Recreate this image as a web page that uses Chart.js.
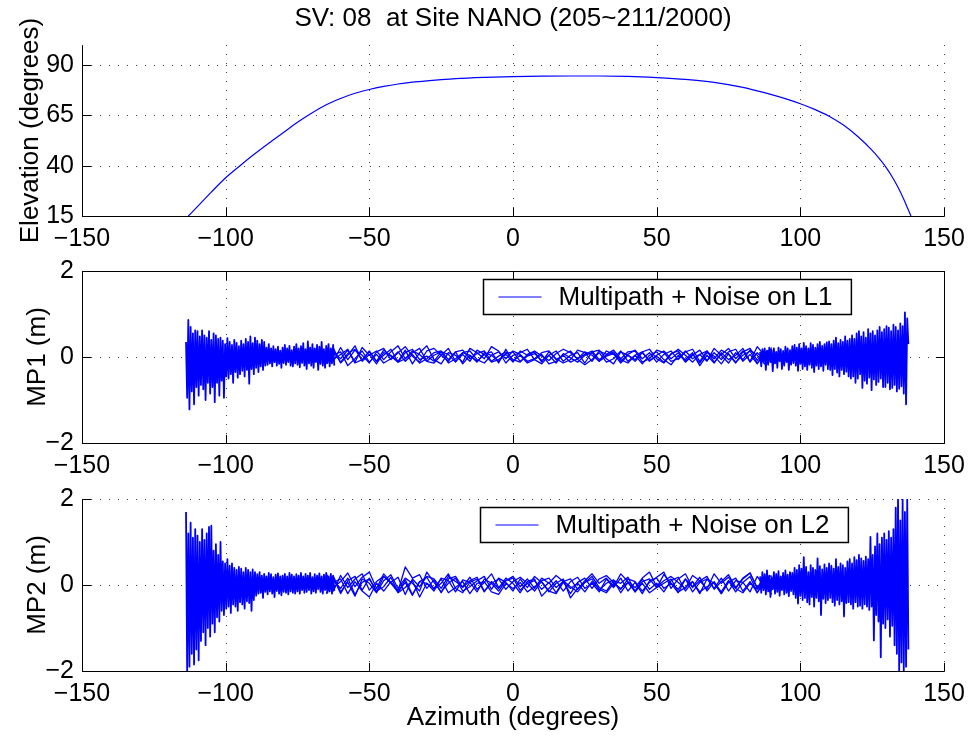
<!DOCTYPE html>
<html>
<head>
<meta charset="utf-8">
<title>SV 08 multipath</title>
<script src="https://cdn.jsdelivr.net/npm/chart.js@4.4.1/dist/chart.umd.min.js"></script>
<style>
  html, body { margin: 0; padding: 0; background: #fff; }
  #wrap { position: relative; width: 973px; height: 736px; }
  #wrap canvas { position: absolute; left: 0; top: 0; }
</style>
</head>
<body>
<div id="wrap">
  <canvas id="elev" width="973" height="736"></canvas>
  <canvas id="mp1" width="973" height="736"></canvas>
  <canvas id="mp2" width="973" height="736"></canvas>
</div>
<script>
// ---- data ----
const chartTitle = "SV: 08  at Site NANO (205~211/2000)";
const azTicks = [-150, -100, -50, 0, 50, 100, 150];
const elevTicks = [15, 40, 65, 90];
const mpTicks = [-2, 0, 2];

const elevAzimuth = [-113, -110, -105, -100, -95, -90, -85, -80, -75, -70,
  -65, -60, -55, -50, -45, -40, -35, -30, -25, -20,
  -10, 0, 10, 20, 30, 40, 50, 60, 70, 80,
  85, 90, 95, 100, 105, 110, 115, 120, 125, 128,
  130, 132, 134, 136, 137.5, 138.5];
const elevation = [15, 19.4, 26.9, 34, 40, 45.8, 51.2, 56.4, 61.6, 66.2,
  70.3, 73.4, 76, 77.9, 79.4, 80.6, 81.5, 82.2, 82.8, 83.3,
  83.9, 84.3, 84.5, 84.6, 84.6, 84.4, 83.8, 82.9, 81.4, 78.9,
  77.2, 75.3, 73.2, 70.8, 68, 64.6, 60.2, 54.5, 47.6, 42.6,
  38.8, 34.4, 29.3, 23.3, 18.3, 15];

// low elevation ends: one sample every 0.4 deg azimuth
const denseStep = 0.4;
const leftStart = -113.8;
const rightStart = 86;
// daily passes over the high part: one sample every 2.5 deg from -65
const passStart = -65;
const passStep = 2.5;

const mp1Left = [.35,-.95,.86,-1.22,.7,-.8,.55,-1.1,.62,-.7,
  .6,-.9,.48,-.65,.62,-.75,.5,-1.0,.45,-.6,
  .6,-.85,.4,-.7,.55,-1.05,.5,-.6,.42,-.9,
  .45,-.55,.38,-.95,.3,-.45,.44,-.5,.35,-.4,
  .28,-.6,.4,-.35,.33,-.48,.25,-.4,.38,-.32,
  .3,-.45,.42,-.3,.35,-.62,.48,-.28,.32,-.4,
  .45,-.25,.38,-.35,.3,-.22,.4,-.3,.35,-.2,
  .22,-.18,.3,-.15,.2,-.22,.25,-.12,.18,-.2,
  .24,-.16,.15,-.25,.22,-.14,.28,-.18,.2,-.12,
  .26,-.2,.16,-.22,.24,-.15,.3,-.18,.2,-.24,
  .25,-.14,.32,-.2,.18,-.28,.36,-.15,.22,-.2,
  .3,-.25,.2,-.12,.28,-.3,.24,-.16,.35,-.2,
  .18,-.25,.26,-.14,.3,-.22,.2,-.15,.28,-.2];
const mp1Right = [.12,-.22,.18,-.1,.2,-.3,.15,-.18,.22,-.12,
  .16,-.33,.2,-.15,.12,-.25,.22,-.1,.18,-.28,
  .14,-.2,.24,-.12,.2,-.3,.16,-.18,.25,-.14,
  .28,-.2,.22,-.32,.3,-.16,.2,-.28,.33,-.22,
  .25,-.3,.2,-.18,.32,-.25,.28,-.35,.22,-.2,
  .3,-.28,.35,-.22,.26,-.32,.3,-.18,.34,-.28,
  .36,-.3,.3,-.42,.38,-.28,.45,-.36,.32,-.45,
  .4,-.3,.35,-.4,.48,-.34,.38,-.45,.42,-.5,
  .5,-.45,.42,-.6,.55,-.5,.6,-.4,.48,-.72,
  .58,-.55,.45,-.62,.65,-.48,.55,-.77,.6,-.52,
  .5,-.65,.62,-.58,.7,-.5,.58,-.7,.65,-.7,
  .72,-.6,.68,-.75,.6,-.72,.75,-.65,.7,-.8,
  .62,-.74,.78,-.68,.72,-.85,1.04,-1.1,.9,.3];
const mp1PassA = [.18,-.1,.22,-.06,.16,.04,-.14,.12,.2,-.06,
  .1,.24,.02,-.12,.14,.2,.04,-.1,.12,.16,
  -.04,.08,.14,-.1,.02,.12,-.06,-.12,.06,.14,
  .02,-.08,.08,.18,.1,-.04,.06,.14,-.06,.04,
  .12,-.1,.06,.16,-.04,.1,-.12,.06,.14,-.06,
  .12,.18,-.1,.14,-.04,.16,.06,-.14,.12,.2,
  -.08,.14,-.12];
const mp1PassB = [-.16,.1,-.04,.16,-.14,-.06,.12,-.1,.04,.18,
  -.12,-.04,.14,.06,-.1,.04,.12,-.14,-.04,.1,
  .14,-.06,-.14,.04,.12,-.04,.14,.06,-.1,-.04,
  .1,.14,-.06,.04,-.12,-.04,.12,.04,-.1,.14,
  .06,-.06,-.14,.04,.12,-.1,.04,.14,-.04,.1,
  -.12,.04,.16,-.08,.1,-.06,.12,.18,-.1,.06,
  -.16,.1,.18];
const mp1PassC = [.06,.2,-.14,.04,.26,-.1,.06,-.16,.1,.04,
  -.1,.16,-.16,.1,.26,-.06,-.16,.1,.04,-.12,
  .2,.1,-.04,.24,.14,-.14,.04,.1,.18,-.06,
  -.16,.04,.14,-.1,.04,.1,-.14,.12,.16,-.04,
  -.16,.12,.04,-.06,.12,.18,-.04,-.14,.06,.18,
  .04,-.12,.06,-.1,.2,.04,-.14,.1,-.06,.16,
  .04,-.16,.12];
const mp1PassD = [-.1,.04,.12,-.2,-.04,.14,-.12,.06,-.14,-.04,
  .12,-.1,.06,-.14,-.04,.1,.14,-.06,.12,-.16,
  .04,-.1,.06,.12,-.14,.18,-.1,.04,-.14,-.06,
  .06,-.16,-.1,.04,.14,-.06,-.18,-.06,.1,-.12,
  -.04,.14,-.1,.04,-.16,.04,.12,-.06,-.18,.04,
  -.06,.1,-.2,.04,-.14,.1,-.06,.04,.2,-.12,
  .1,-.06,.22];
const mp1PassE = [.22,-.06,.06,.18,-.12,.22,.04,.14,-.06,.12,
  .26,-.04,.1,.2,-.1,-.14,.04,.2,-.1,.06,
  -.1,.16,.06,-.12,-.06,.06,-.12,.14,.04,.12,
  -.12,.12,-.04,-.14,-.06,.16,.1,-.1,.14,.06,
  .16,-.04,.12,.14,-.12,-.04,.16,.1,-.1,-.04,
  .14,-.04,.06,.14,-.12,.06,.2,-.04,.14,-.1,
  .24,.04,-.04];
const mp1PassF = [-.04,.14,-.12,.08,.18,-.08,.14,-.1,.16,.02,
  -.12,.1,.18,-.06,.02,-.1,.12,.06,-.12,.1,
  .04,-.12,.1,.04,-.1,.08,.12,-.1,.02,.08,
  -.08,.04,-.14,.08,-.02,-.12,.04,.1,-.1,.02,
  .08,-.14,.04,-.1,.1,-.08,.02,-.12,.08,.14,
  -.1,.06,-.14,.1,.02,-.16,.08,-.12,.04,.14,
  -.14,.08,-.1];

const mp2Left = [1.7,-2.0,1.2,-1.9,1.45,-1.6,1.1,-1.85,1.3,-1.5,
  1.15,-1.75,1.0,-1.3,1.3,-1.1,1.05,-1.4,1.2,-1.0,
  1.35,-1.2,1.38,-.9,.8,-1.1,.95,-.75,.7,-.85,
  1.0,-.6,.55,-.7,.5,-.55,.6,-.5,.45,-.65,
  .5,-.45,.4,-.5,.35,-.6,.42,-.4,.38,-.45,
  .3,-.55,.4,-.38,.35,-.42,.3,-.6,.36,-.35,
  .3,-.25,.25,-.2,.3,-.18,.22,-.3,.26,-.16,
  .2,-.22,.28,-.15,.25,-.2,.18,-.28,.24,-.14,
  .27,-.2,.2,-.24,.22,-.16,.26,-.18,.2,-.22,
  .28,-.15,.24,-.18,.2,-.2,.25,-.15,.22,-.2,
  .28,-.12,.2,-.18,.26,-.16,.22,-.12,.28,-.2,
  .18,-.15,.25,-.18,.22,-.1,.27,-.16,.2,-.2,
  .24,-.12,.28,-.18,.2,-.15,.26,-.2,.22,-.14];
const mp2Right = [.2,-.18,.3,-.12,.25,-.22,.34,-.15,.22,-.28,
  .18,-.1,.3,-.2,.26,-.16,.32,-.25,.2,-.12,
  .28,-.22,.34,-.18,.24,-.26,.3,-.14,.28,-.22,
  .4,-.3,.35,-.43,.46,-.25,.38,-.35,.65,-.3,
  .42,-.4,.3,-.45,.46,-.28,.4,-.5,.35,-.3,
  .62,-.38,.44,-.7,.36,-.32,.48,-.42,.4,-.35,
  .5,-.3,.45,-.4,.38,-.48,.6,-.35,.42,-.45,
  .5,-.38,.46,-.73,.4,-.42,.55,-.4,.6,-.45,
  .5,-.55,.65,-.4,.58,-.5,.7,-.48,.62,-.55,
  .56,-.45,.66,-.5,.6,-.58,1.12,-.5,.7,-1.29,
  .9,-.7,1.2,-.85,.95,-1.68,1.1,-.9,1.2,-1.0,
  1.05,-.8,1.25,-1.2,1.1,-.95,1.3,-1.4,1.8,-1.6,
  2.0,-2.0,1.5,-1.8,2.0,-2.0,1.7,-1.9,2.0,-1.5];
const mp2PassA = [.16,-.14,.22,-.06,.14,.26,-.12,.08,.2,.06,
  -.14,.42,.16,.24,-.08,.12,-.18,.14,.2,-.06,
  .1,.18,-.14,.04,.14,-.1,.08,.18,.04,-.14,
  .1,.16,-.06,.08,-.2,.06,.16,-.08,.14,.22,
  .06,-.1,.14,.08,-.14,.06,.18,.3,-.08,.14,
  .26,-.06,.1,.2,-.1,.08,.24,-.06,.16,.28,
  -.08,.14,.22];
const mp2PassB = [-.2,.1,-.08,.16,-.22,.06,.14,-.14,-.04,.18,
  -.16,.06,-.24,.08,.18,-.1,.04,.26,-.08,-.18,
  .06,.14,-.16,.08,-.08,.16,.04,-.18,.08,.14,
  -.26,-.08,.1,-.14,.08,.18,-.08,.04,-.16,.14,
  -.06,.16,-.14,.06,-.2,.1,.16,-.08,.04,-.18,
  .14,-.04,.18,-.14,.08,-.2,.06,.16,-.14,.08,
  -.18,.1,-.04];
const mp2PassC = [.08,.2,-.16,.06,-.26,.14,.04,-.18,.1,.24,
  -.08,.16,.04,-.14,.3,.06,-.16,.04,.16,-.14,
  -.04,.1,.2,-.1,.16,.06,-.14,.14,-.06,.2,
  .06,-.16,.04,.14,-.3,-.08,.06,.2,-.06,-.14,
  .1,.04,.18,-.16,.08,.14,-.06,.24,.04,-.1,
  .14,-.16,.06,.14,-.08,.16,-.14,.1,.06,-.16,
  .2,-.04,.14];
const mp2PassD = [-.1,.06,.14,-.2,.08,-.14,-.28,.04,-.14,.08,
  -.18,-.06,.1,-.28,.04,-.08,.14,-.18,-.06,.08,
  -.2,.04,.08,-.16,-.22,.04,-.08,.06,-.16,-.04,
  .08,-.14,-.2,.06,-.08,.04,-.16,.08,-.1,-.18,
  .04,-.08,.06,-.16,.04,-.18,-.06,.04,.14,-.16,
  -.06,.08,-.16,-.04,.06,-.16,.1,-.08,-.18,.04,
  -.1,.08,-.22];
const mp2PassE = [.26,-.06,.08,.28,-.04,.18,.3,-.08,.26,.06,
  .18,-.22,.14,-.04,.2,.14,-.08,.2,.08,-.04,
  .18,-.1,.06,.26,-.06,.1,.2,-.04,.14,-.08,
  .16,.04,.22,.08,.14,-.1,.1,.26,.04,.16,
  -.04,.26,.08,-.06,.16,.3,-.04,.1,.2,.06,
  -.08,.22,.1,-.1,.26,.04,.18,-.08,.14,.28,
  -.06,.18,.08];
const mp2PassF = [-.06,.16,-.2,.1,.2,-.12,.16,-.16,.2,.04,
  -.16,.12,-.22,.08,.04,-.14,.16,.1,-.16,.12,
  .06,-.16,.14,.04,-.14,.1,.16,-.12,.04,.1,
  -.1,.06,-.18,.1,-.04,-.16,.06,.14,-.12,.04,
  .12,-.18,.06,-.14,.14,-.1,.04,-.16,.1,.18,
  -.14,.08,-.2,.14,.04,-.2,.1,-.16,.06,.2,
  -.18,.1,-.14];

// ---- drawing ----
const blue = "#0000ff";
Chart.defaults.font.family = '"Liberation Sans", Arial, Helvetica, sans-serif';
Chart.defaults.color = "#000";

function minus(v) {
  return v < 0 ? "\u2212" + Math.abs(v) : String(v);
}

function series(start, step, values) {
  return values.map((v, i) => ({ x: Math.round((start + i * step) * 100) / 100, y: v }));
}

function lineSet(data, label, width) {
  return {
    label: label,
    data: data,
    borderColor: blue,
    borderWidth: width || 1,
    borderJoinStyle: "round",
    pointRadius: 0,
    tension: 0,
    fill: false
  };
}

function crisp(v) {
  return Math.round(v) + 0.5;
}

// matlab style frame: dotted grid, inward ticks, optional box, boxed legend
const matlabAxes = {
  id: "matlabAxes",
  beforeDatasetsDraw(chart, args, opts) {
    const { ctx, chartArea: a, scales: { x, y } } = chart;
    ctx.save();
    ctx.strokeStyle = "#444";
    ctx.lineWidth = 1;
    ctx.setLineDash([1, 8]);
    ctx.beginPath();
    x.ticks.forEach(t => {
      const px = crisp(x.getPixelForValue(t.value));
      ctx.moveTo(px, a.top);
      ctx.lineTo(px, a.bottom);
    });
    y.ticks.forEach(t => {
      const py = crisp(y.getPixelForValue(t.value));
      ctx.moveTo(a.left, py);
      ctx.lineTo(a.right, py);
    });
    ctx.stroke();
    ctx.restore();
  },
  afterDatasetsDraw(chart, args, opts) {
    const { ctx, chartArea: a, scales: { x, y } } = chart;
    const tick = 8.6;
    const L = crisp(a.left), R = crisp(a.right), T = crisp(a.top), B = crisp(a.bottom);
    ctx.save();
    ctx.strokeStyle = "#000";
    ctx.lineWidth = 1;
    ctx.beginPath();
    ctx.moveTo(L, T);
    ctx.lineTo(L, B);
    ctx.lineTo(R, B);
    if (opts.box) {
      ctx.lineTo(R, T);
      ctx.lineTo(L, T);
    }
    x.ticks.forEach(t => {
      const px = crisp(x.getPixelForValue(t.value));
      ctx.moveTo(px, B);
      ctx.lineTo(px, B - tick);
      if (opts.box) {
        ctx.moveTo(px, T);
        ctx.lineTo(px, T + tick);
      }
    });
    y.ticks.forEach(t => {
      const py = crisp(y.getPixelForValue(t.value));
      ctx.moveTo(L, py);
      ctx.lineTo(L + tick, py);
      if (opts.box) {
        ctx.moveTo(R, py);
        ctx.lineTo(R - tick, py);
      }
    });
    ctx.stroke();

    const lg = opts.legend;
    if (lg) {
      const label = chart.data.datasets[0].label;
      ctx.font = '26px "Liberation Sans", Arial, sans-serif';
      const w = 75 + ctx.measureText(label).width + 19;
      const h = 35;
      const bx = Math.round(a.right - lg.right - w) + 0.5;
      const by = Math.round(a.top + lg.top) + 0.5;
      ctx.fillStyle = "#fff";
      ctx.fillRect(bx, by, w, h);
      ctx.lineWidth = 1.5;
      ctx.strokeRect(bx, by, w, h);
      ctx.strokeStyle = blue;
      ctx.lineWidth = 1;
      ctx.beginPath();
      ctx.moveTo(bx + 15, by + h / 2);
      ctx.lineTo(bx + 58, by + h / 2);
      ctx.stroke();
      ctx.fillStyle = "#000";
      ctx.textBaseline = "middle";
      ctx.fillText(label, bx + 75, by + h / 2 + 1);
    }
    ctx.restore();
  }
};

function buildChart(id, o) {
  return new Chart(document.getElementById(id), {
    type: "line",
    data: { datasets: o.datasets },
    options: {
      responsive: false,
      animation: false,
      events: [],
      layout: { padding: o.padding },
      plugins: {
        legend: { display: false },
        tooltip: { enabled: false },
        title: o.title || { display: false },
        matlabAxes: o.frame
      },
      scales: {
        x: {
          type: "linear",
          min: -150,
          max: 150,
          afterBuildTicks: s => { s.ticks = azTicks.map(v => ({ value: v })); },
          afterFit: s => { s.height = o.xHeight; },
          grid: { display: false, drawTicks: false },
          border: { display: false },
          ticks: { padding: 8, autoSkip: false, maxRotation: 0, minRotation: 0, font: { size: 25 }, callback: minus },
          title: o.xTitle || { display: false }
        },
        y: {
          type: "linear",
          min: o.yMin,
          max: o.yMax,
          afterBuildTicks: s => { s.ticks = o.yTicks.map(v => ({ value: v })); },
          afterFit: s => { s.width = 82; },
          grid: { display: false, drawTicks: false },
          border: { display: false },
          ticks: { padding: 8, font: { size: 25 }, callback: minus },
          title: { display: true, text: o.yTitle, font: { size: 26 }, padding: { top: o.yTitlePad, bottom: 0 } }
        }
      }
    },
    plugins: [matlabAxes]
  });
}

function mpDatasets(label, left, right, passes) {
  const sets = [
    lineSet(series(leftStart, denseStep, left), label, 1.8),
    lineSet(series(rightStart, denseStep, right), undefined, 1.8)
  ];
  passes.forEach(p => sets.push(lineSet(series(passStart, passStep, p), undefined, 1.3)));
  return sets;
}

const elevSet = lineSet(elevAzimuth.map((a, i) => ({ x: a, y: elevation[i] })), "Elevation", 1.2);
elevSet.cubicInterpolationMode = "monotone";

buildChart("elev", {
  datasets: [elevSet],
  padding: { top: 0, left: 0, right: 29, bottom: 480 },
  xHeight: 40,
  yMin: 15, yMax: 100, yTicks: elevTicks,
  yTitle: "Elevation (degrees)", yTitlePad: 15,
  title: {
    display: true, text: chartTitle, fullSize: false, color: "#000",
    font: { size: 26, weight: "normal" }, padding: { top: 3, bottom: 10.8 }
  },
  frame: { box: false, legend: null }
});

buildChart("mp1", {
  datasets: mpDatasets("Multipath + Noise on L1", mp1Left, mp1Right,
    [mp1PassA, mp1PassB, mp1PassC, mp1PassD, mp1PassE, mp1PassF]),
  padding: { top: 271, left: 0, right: 29, bottom: 253 },
  xHeight: 40,
  yMin: -2, yMax: 2, yTicks: mpTicks,
  yTitle: "MP1 (m)", yTitlePad: 22,
  frame: { box: true, legend: { right: 93, top: 8 } }
});

buildChart("mp2", {
  datasets: mpDatasets("Multipath + Noise on L2", mp2Left, mp2Right,
    [mp2PassA, mp2PassB, mp2PassC, mp2PassD, mp2PassE, mp2PassF]),
  padding: { top: 499, left: 0, right: 29, bottom: 3 },
  xHeight: 62,
  yMin: -2, yMax: 2, yTicks: mpTicks,
  yTitle: "MP2 (m)", yTitlePad: 22,
  xTitle: { display: true, text: "Azimuth (degrees)", font: { size: 26 }, padding: { top: 0, bottom: 0 } },
  frame: { box: false, legend: { right: 96, top: 8 } }
});
</script>
</body>
</html>
